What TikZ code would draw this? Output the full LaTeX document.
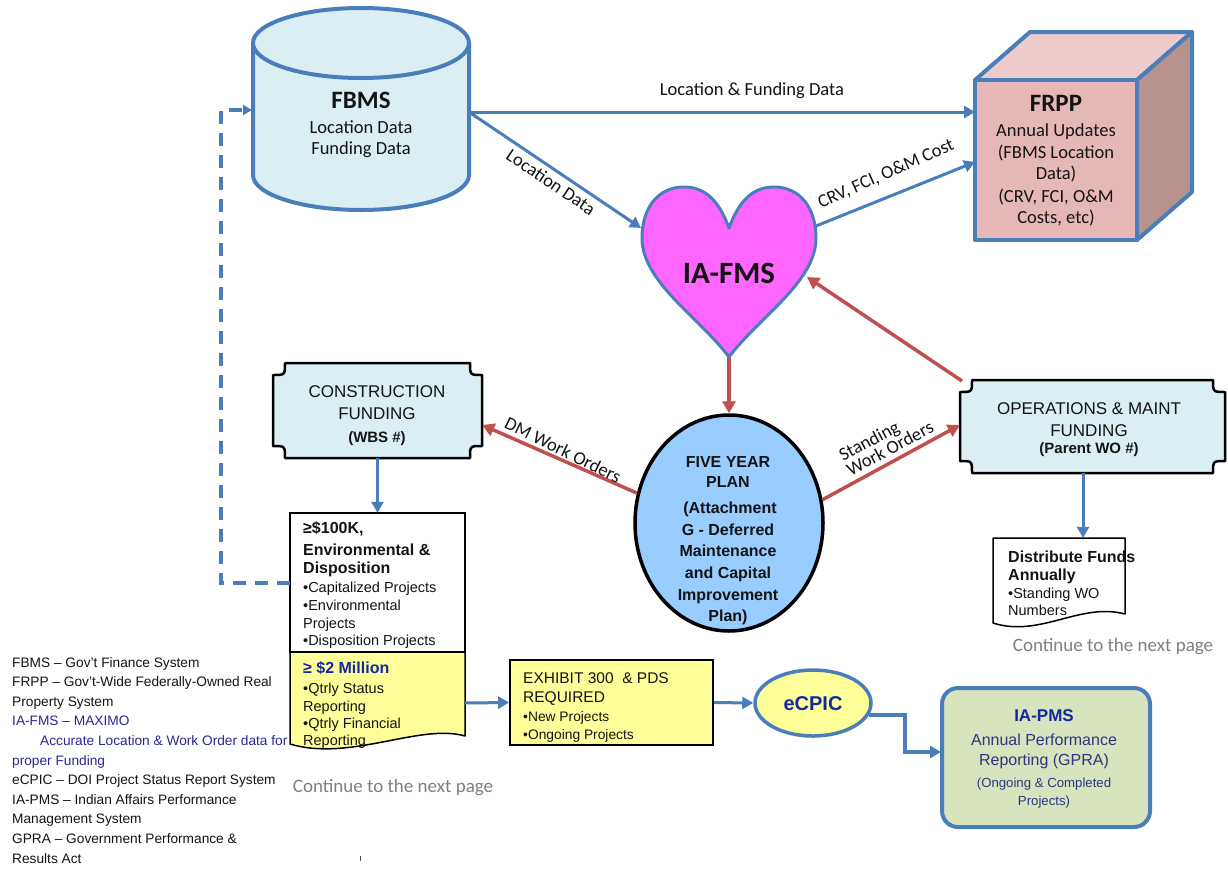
\documentclass[tikz,border=0pt]{standalone}
\usepackage{fontspec}
\setmainfont{Liberation Sans}
\newfontfamily\calfont{Carlito}
\usetikzlibrary{arrows.meta,shapes.geometric}
\definecolor{lineblue}{RGB}{74,126,187}
\definecolor{arrred}{RGB}{192,80,77}
\definecolor{cylfill}{RGB}{219,238,244}
\definecolor{frontpink}{RGB}{229,184,183}
\definecolor{toppink}{RGB}{237,203,202}
\definecolor{sidepink}{RGB}{184,146,143}
\definecolor{heartpink}{RGB}{255,102,255}
\definecolor{planblue}{RGB}{153,204,255}
\definecolor{yel}{RGB}{255,255,153}
\definecolor{pmsgreen}{RGB}{215,228,189}
\definecolor{navy}{RGB}{20,40,160}
\definecolor{textnavy}{RGB}{45,55,130}
\definecolor{legblue}{RGB}{40,40,150}
\definecolor{graytext}{RGB}{128,128,128}
\definecolor{txt}{RGB}{20,20,20}
\newcommand\tline[5]{\node[anchor=#1,inner sep=0pt,#2] (#3) at (#4) {#5};}
\begin{document}
\begin{tikzpicture}[x=1pt,y=-1pt,
  cal/.style={font=\calfont\fontsize{#1}{#1}\selectfont, text=txt},
  ar/.style={font=\fontsize{#1}{#1}\selectfont, text=txt},
  barrow/.style={draw=lineblue, line width=3pt, -{Triangle[length=11pt,width=12pt]}},
  rarrow/.style={draw=arrred, line width=3.5pt, -{Triangle[length=12pt,width=13pt]}},
  plaque/.style={draw=black, line width=2.5pt, fill=cylfill, line join=round},
  thinbox/.style={draw=black, line width=1.5pt},
  bluebord/.style={draw=lineblue, line width=4pt, line join=round},
  ghost/.style={inner sep=0pt, draw=none},
]
\useasboundingbox (0,0) rectangle (1228,871);
\fill[white] (0,0) rectangle (1228,871);

% ---------------- FBMS cylinder
\path[fill=cylfill, bluebord] (253,43) -- (253,175)
  .. controls (253,194.3) and (301.35,210) .. (361,210)
  .. controls (420.65,210) and (469,194.3) .. (469,175) -- (469,43) -- cycle;
\draw[bluebord, fill=cylfill] (361,43) ellipse [x radius=108, y radius=35];
\node[ghost, minimum width=216, minimum height=203] (fbms) at (361,108.5) {};
\tline{base}{cal=25}{fbmsA}{361,108.5}{\bfseries FBMS}
\tline{base}{cal=18.5}{fbmsB}{361,133}{Location Data}
\tline{base}{cal=18.5}{fbmsC}{361,154}{Funding Data}

% ---------------- FRPP cube
\def\cdx{55}\def\cdy{-48}
\draw[bluebord, fill=toppink] (975,80) -- (975+\cdx,80+\cdy) -- (1137+\cdx,80+\cdy) -- (1137,80) -- cycle;
\draw[bluebord, fill=sidepink] (1137,80) -- (1137+\cdx,80+\cdy) -- (1137+\cdx,240+\cdy) -- (1137,240) -- cycle;
\node[bluebord, fill=frontpink, minimum width=162, minimum height=160, inner sep=0pt] (frpp) at (1056,160) {};
\tline{base}{cal=25}{frppA}{1056,111}{\bfseries FRPP}
\tline{base}{cal=18.5}{frppB}{1056,136}{Annual Updates}
\tline{base}{cal=18.5}{frppC}{1056,158}{(FBMS Location}
\tline{base}{cal=18.5}{frppD}{1056,179}{Data)}
\tline{base}{cal=18.5}{frppE}{1056,202}{(CRV, FCI, O\&M}
\tline{base}{cal=18.5}{frppF}{1056,223}{Costs, etc)}

% ---------------- IA-FMS heart
\draw[draw=lineblue, line width=3pt, fill=heartpink, line join=round]
  (729,228) .. controls (718,198) and (703,187) .. (684,187)
  .. controls (658,187) and (642,208) .. (642,238)
  .. controls (642,282) and (700,318) .. (729,357)
  .. controls (758,318) and (816,282) .. (816,238)
  .. controls (816,208) and (800,187) .. (774,187)
  .. controls (755,187) and (740,198) .. (729,228) -- cycle;
\tline{base}{cal=31}{iafms}{729,283}{\bfseries IA-FMS}
\coordinate (heartL) at (641,228);
\coordinate (heartR) at (816,226);
\coordinate (heartR2) at (807,277);
\coordinate (heartB) at (729,357);

% ---------------- Five year plan
\node[ellipse, draw=black, line width=3.5pt, fill=planblue, minimum width=188, minimum height=216, inner sep=0pt] (fyp) at (729,523) {};
\tline{base}{ar=16}{fyp1}{728,467.7}{\bfseries FIVE YEAR}
\tline{base}{ar=16}{fyp2}{728,487.7}{\bfseries PLAN}
\tline{base}{ar=16}{fyp3}{730,513.7}{\bfseries (Attachment}
\tline{base}{ar=16}{fyp4}{728,535.7}{\bfseries G - Deferred}
\tline{base}{ar=16}{fyp5}{728,556.7}{\bfseries Maintenance}
\tline{base}{ar=16}{fyp6}{728,578.7}{\bfseries and Capital}
\tline{base}{ar=16}{fyp7}{728,600.7}{\bfseries Improvement}
\tline{base}{ar=16}{fyp8}{728,621.7}{\bfseries Plan)}

% ---------------- Construction funding plaque
\draw[plaque] (285,363) -- (470,363) .. controls (470,375) .. (482,375) -- (482,446)
  .. controls (470,446) .. (470,458) -- (285,458) .. controls (285,446) .. (273,446)
  -- (273,375) .. controls (285,375) .. (285,363) -- cycle;
\node[ghost, minimum width=209, minimum height=95] (cf) at (377.5,410.5) {};
\tline{base}{ar=17}{cf1}{377,397.3}{CONSTRUCTION}
\tline{base}{ar=17}{cf2}{377,419.3}{FUNDING}
\tline{base}{ar=15}{cf3}{377,442.4}{\bfseries (WBS \#)}

% ---------------- Operations plaque
\draw[plaque] (972,380) -- (1213,380) .. controls (1213,392) .. (1225,392) -- (1225,461)
  .. controls (1213,461) .. (1213,473) -- (972,473) .. controls (972,461) .. (960,461)
  -- (960,392) .. controls (972,392) .. (972,380) -- cycle;
\node[ghost, minimum width=265, minimum height=93] (ops) at (1092.5,426.5) {};
\tline{base}{ar=17}{ops1}{1089,414.3}{OPERATIONS \& MAINT}
\tline{base}{ar=17}{ops2}{1089,436.3}{FUNDING}
\tline{base}{ar=15}{ops3}{1089,453.4}{\bfseries (Parent WO \#)}
\coordinate (opsTL) at (962,381);

% ---------------- >= $100K box
\draw[thinbox, fill=white] (290,513) rectangle (465,652);
\draw[thinbox, fill=yel, line join=round] (290,652) -- (465,652) -- (465,736)
  .. controls (420,723) and (350,762) .. (290,744) -- cycle;
\node[ghost, minimum width=175, minimum height=232] (cap) at (377.5,629) {};
\tline{base west}{ar=16}{c1}{303,533.8}{\bfseries ≥\$100K,}
\tline{base west}{ar=16}{c2}{303,555.8}{\bfseries Environmental \&}
\tline{base west}{ar=16}{c3}{303,573.8}{\bfseries Disposition}
\tline{base west}{ar=14.5}{c4}{303,592.2}{•Capitalized Projects}
\tline{base west}{ar=14.5}{c5}{303,610.2}{•Environmental}
\tline{base west}{ar=14.5}{c6}{303,628.2}{Projects}
\tline{base west}{ar=14.5}{c7}{303,645.2}{•Disposition Projects}
\tline{base west}{ar=16}{c8}{303,673.8}{\bfseries\color{navy}≥ \$2 Million}
\tline{base west}{ar=14.5}{c9}{303,693.2}{•Qtrly Status}
\tline{base west}{ar=14.5}{c10}{303,711.2}{Reporting}
\tline{base west}{ar=14.5}{c11}{303,728.2}{•Qtrly Financial}
\tline{base west}{ar=14.5}{c12}{303,745.5}{Reporting}
\coordinate (capE) at (465,703);
\coordinate (capL) at (290,583);

% ---------------- Distribute funds
\draw[thinbox, fill=white, line join=round] (993,538) -- (1125,538) -- (1125,614)
  .. controls (1080,602) and (1040,638) .. (993,623) -- cycle;
\node[ghost, minimum width=132, minimum height=84] (dist) at (1059,580) {};
\tline{base west}{ar=16}{d1}{1008,562.8}{\bfseries Distribute Funds}
\tline{base west}{ar=16}{d2}{1008,580.8}{\bfseries Annually}
\tline{base west}{ar=14.5}{d3}{1008,598.2}{•Standing WO}
\tline{base west}{ar=14.5}{d4}{1008,615.5}{Numbers}
\tline{base}{cal=19, text=graytext}{cont1}{1113,651}{Continue to the next page}
\tline{base}{cal=19, text=graytext}{cont2}{393,792}{Continue to the next page}

% ---------------- Exhibit 300
\node[draw=black, line width=1.8pt, fill=yel, minimum width=203, minimum height=85, inner sep=0pt] (exh) at (611.5,702.5) {};
\tline{base west}{ar=15.5}{e1}{523,683.5}{EXHIBIT 300\ \ \& PDS}
\tline{base west}{ar=15.5}{e2}{523,702.5}{REQUIRED}
\tline{base west}{ar=13.8}{e3}{523,721}{•New Projects}
\tline{base west}{ar=13.8}{e4}{523,739}{•Ongoing Projects}

% ---------------- eCPIC
\node[ellipse, draw=lineblue, line width=3.5pt, fill=yel, minimum width=116, minimum height=66, inner sep=0pt] (ecpic) at (813,703) {};
\tline{base}{ar=20}{ecp}{813,710.5}{\bfseries\color{navy}eCPIC}

% ---------------- IA-PMS
\node[draw=lineblue, line width=4pt, fill=pmsgreen, rounded corners=16pt, minimum width=208, minimum height=139, inner sep=0pt] (iapms) at (1046,757.5) {};
\tline{base}{ar=17}{p1}{1044,721}{\bfseries\color{navy}IA-PMS}
\tline{base}{ar=16, text=textnavy}{p2}{1044,745.5}{Annual Performance}
\tline{base}{ar=16, text=textnavy}{p3}{1044,765.5}{Reporting (GPRA)}
\tline{base}{ar=13.2, text=textnavy}{p4}{1044,787}{(Ongoing \& Completed}
\tline{base}{ar=13.2, text=textnavy}{p5}{1044,805}{Projects)}
\coordinate (pmsIn) at (941,752);

% ---------------- connectors
\coordinate (fbmsR) at (469,112);
\coordinate (fbmsL) at (252,110);
\coordinate (frppL1) at (975,112);
\coordinate (frppL2) at (975,162);
\draw[barrow] (fbmsR) -- (frppL1);
\draw[barrow] (fbmsR) -- (heartL);
\draw[barrow] (heartR) -- (frppL2);
\draw[rarrow] (opsTL) -- (heartR2);
\draw[rarrow] (heartB) -- (fyp.north);
\draw[rarrow] (fyp.162) -- (cf.east |- 0,425);
\draw[rarrow] (fyp.14) -- (ops.west |- 0,425);
\draw[barrow] (cf.south) -- (cap.north);
\draw[barrow] (ops.south -| 1083,0) -- (dist.north -| 1083,0);
\draw[barrow] (capE) -- (exh.west);
\draw[barrow] (exh.east) -- (ecpic.west);
\draw[barrow, line width=3.5pt] (ecpic.-12) -| (905,752) -- (pmsIn);
\draw[draw=lineblue, line width=3.5pt, dash pattern=on 13pt off 9pt, -{Triangle[length=9pt,width=10pt]}]
  (capL) -- (221,583) -- (221,110) -- (fbmsL);

% ---------------- connector labels
\node[cal=18.5, inner sep=0pt] (lbl1) at (752,91) {Location \& Funding Data};
\node[cal=18.5, inner sep=0pt, rotate=-34] (lbl2) at (551,182) {Location Data};
\node[cal=18.5, inner sep=0pt, rotate=24] (lbl3) at (886,174) {CRV, FCI, O\&M Cost};
\node[cal=18.5, inner sep=0pt, rotate=-26] (lbl4) at (563,450) {DM Work Orders};
\node[cal=18.5, inner sep=0pt, rotate=28, align=left] (lbl5) at (886,441) {Standing\\[-2pt]Work Orders};

% ---------------- legend
\tline{base west}{ar=13.7}{g1}{12,667}{FBMS – Gov’t Finance System}
\tline{base west}{ar=13.7}{g2}{12,686.6}{FRPP – Gov’t-Wide Federally-Owned Real}
\tline{base west}{ar=13.7}{g3}{12,706.2}{Property System}
\tline{base west}{ar=13.7, text=legblue}{g4}{12,725.8}{IA-FMS – MAXIMO}
\tline{base west}{ar=13.7, text=legblue}{g5}{40,745.4}{Accurate Location \& Work Order data for}
\tline{base west}{ar=13.7, text=legblue}{g6}{12,765}{proper Funding}
\tline{base west}{ar=13.7}{g7}{12,784.6}{eCPIC – DOI Project Status Report System}
\tline{base west}{ar=13.7}{g8}{12,804.2}{IA-PMS – Indian Affairs  Performance}
\tline{base west}{ar=13.7}{g9}{12,823.8}{Management System}
\tline{base west}{ar=13.7}{g10}{12,843.4}{GPRA – Government Performance \&}
\tline{base west}{ar=13.7}{g11}{12,863}{Results Act}
\draw[line width=1pt, black!70] (360,856) -- (360,861);
\end{tikzpicture}
\end{document}
